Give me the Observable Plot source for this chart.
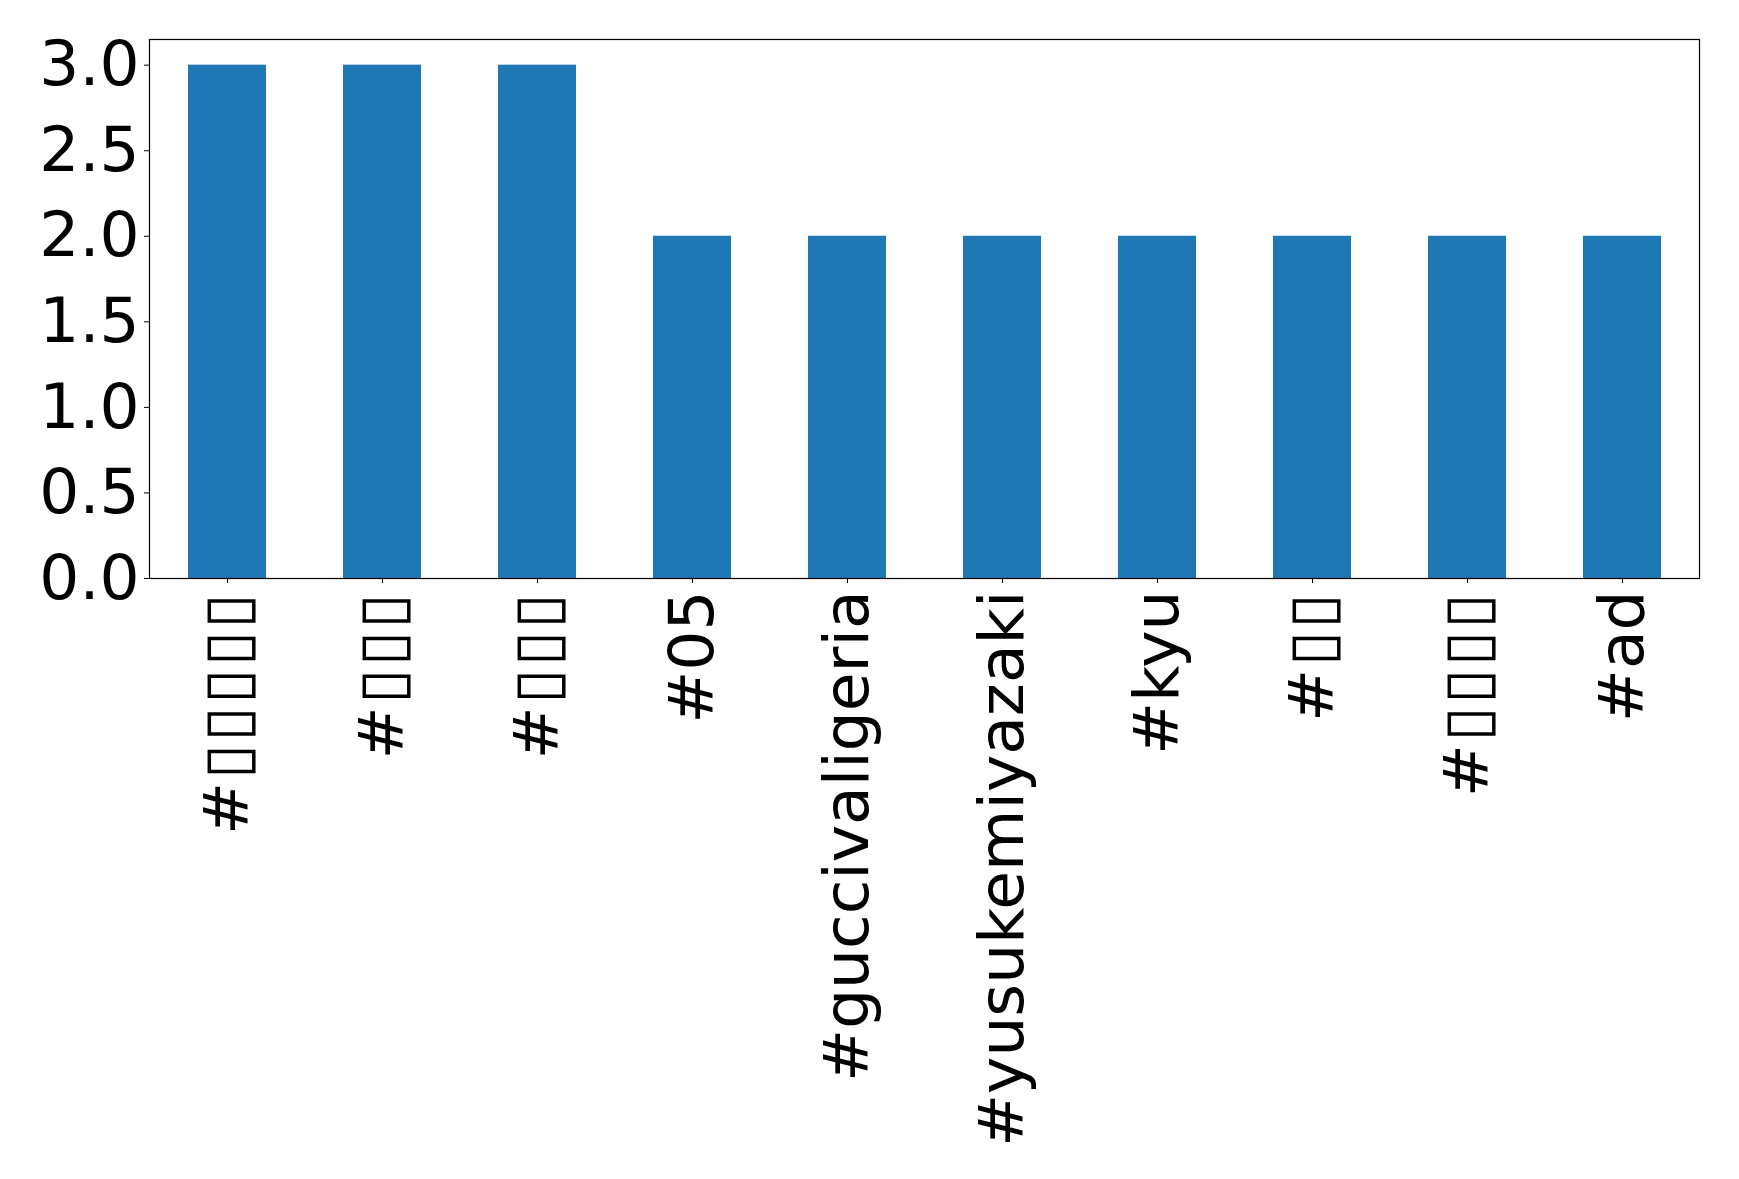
<!DOCTYPE html>
<html>
<head>
<meta charset="utf-8">
<script src="https://cdn.jsdelivr.net/npm/d3@7"></script>
<script src="https://cdn.jsdelivr.net/npm/@observablehq/plot@0.6"></script>
<style>
  html, body { margin: 0; padding: 0; background: white; }
</style>
</head>
<body>
<div id="chart"></div>
<script>
const tags = ["#▯▯▯▯▯", "#▯▯▯", "#▯▯▯", "#05", "#guccivaligeria", "#yusukemiyazaki", "#kyu", "#▯▯", "#▯▯▯▯", "#ad"];
const counts = [3, 3, 3, 2, 2, 2, 2, 2, 2, 2];
const yTicks = [0, 0.5, 1.0, 1.5, 2.0, 2.5, 3.0];

const data = tags.map((t, i) => ({key: i, tag: t, count: counts[i]}));

const chart = Plot.plot({
  width: 1739,
  height: 1179,
  marginLeft: 149,
  marginRight: 40,
  marginTop: 39,
  marginBottom: 601,
  style: {fontFamily: "DejaVu Sans", fontSize: "63px", color: "black", background: "white"},
  x: {type: "band", domain: data.map(d => d.key), paddingInner: 0.5, paddingOuter: 0.25, align: 0.5},
  y: {domain: [0, 3.15]},
  marks: [
    Plot.barY(data, {x: "key", y: "count", fill: "#1f77b4"}),
    Plot.frame({stroke: "black", strokeWidth: 1.2}),
    Plot.axisY({ticks: yTicks, tickFormat: d3.format(".1f"), tickSize: 5, tickPadding: 5, fontSize: 63, label: null, stroke: "black"}),
    Plot.axisX({tickFormat: k => tags[k], tickRotate: -90, tickSize: 5, tickPadding: 7, fontSize: 63, label: null, stroke: "black"})
  ]
});
d3.select(chart).selectAll("text").filter(function() { return this.textContent.includes("▯"); })
  .style("letter-spacing", "3px");
document.getElementById("chart").appendChild(chart);
</script>
</body>
</html>
